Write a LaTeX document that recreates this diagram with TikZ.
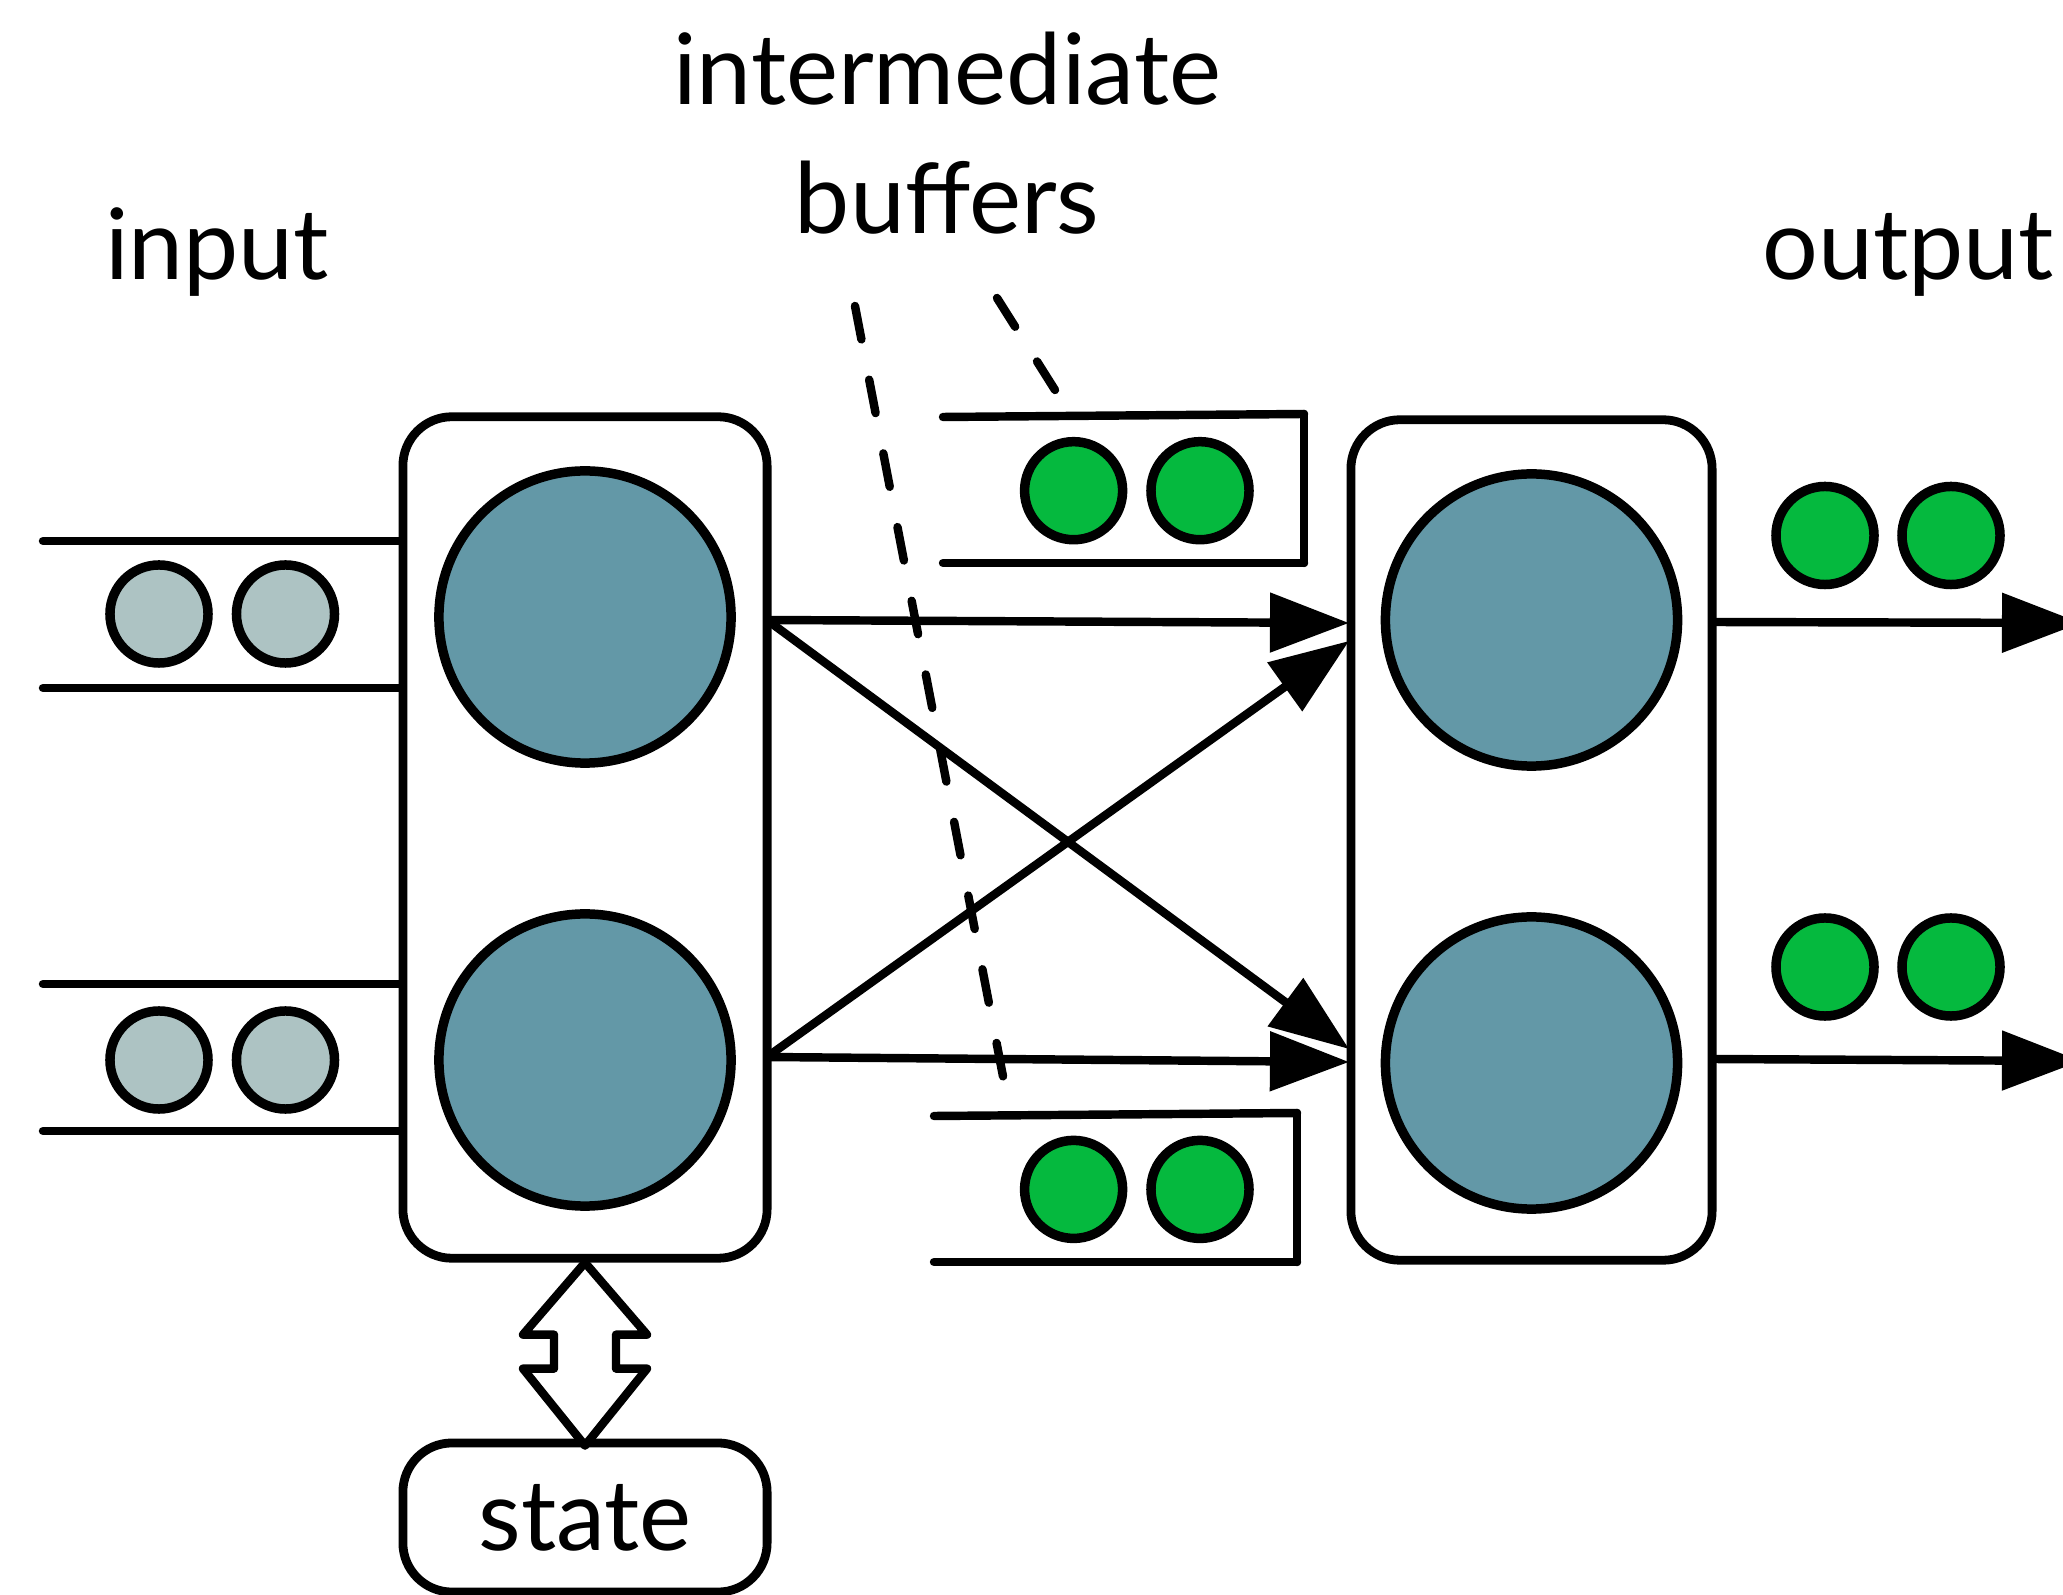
\documentclass[tikz,border=0pt]{standalone}
\usepackage{fontspec}
\setmainfont{Lato}
\usetikzlibrary{arrows.meta}
\definecolor{unitblue}{HTML}{6398A7}
\definecolor{tokgreen}{HTML}{05B93E}
\definecolor{tokgrey}{HTML}{ADC3C3}

\begin{document}
\begin{tikzpicture}[x=0.01cm,y=-0.01cm,
  box/.style={draw,line width=2.5pt,rounded corners=0.49cm,inner sep=0pt},
  unit/.style={circle,draw,line width=2.7pt,fill=unitblue,minimum size=2.92cm,inner sep=0pt},
  tok/.style={circle,draw,line width=2.7pt,minimum size=0.98cm,inner sep=0pt},
  intok/.style={tok,fill=tokgrey},
  buftok/.style={tok,fill=tokgreen},
  rail/.style={line width=2.4pt,line cap=round},
  flow/.style={line width=2.4pt,-{Triangle[length=0.79cm,width=0.58cm]}},
  guide/.style={line width=2.4pt,line cap=round,dash pattern=on 0.34cm off 0.41cm},
  lbl/.style={font=\fontsize{28}{30}\selectfont,anchor=base,inner sep=0pt}]

\useasboundingbox (0,0) rectangle (2063,1595);
\clip (0,0) rectangle (2063,1595);

% labels
\node[lbl] (tInter) at (947,105) {intermediate};
\node[lbl] (tBuf) at (947,234) {buffers};
\node[lbl] (tIn) at (217,280) {input};
\node[lbl] (tOut) at (1908,280) {output};

% operator boxes and their units
\node[box,minimum width=3.64cm,minimum height=8.41cm] (lbox) at (585,837.5) {};
\node[box,minimum width=3.61cm,minimum height=8.40cm] (rbox) at (1531.5,840) {};
\node[unit] (lc1) at (585,617) {};
\node[unit] (lc2) at (585,1060) {};
\node[unit] (rc1) at (1531.5,620) {};
\node[unit] (rc2) at (1531.5,1063) {};

% state box
\node[box,minimum width=3.64cm,minimum height=1.49cm,font=\fontsize{28}{30}\selectfont] (state) at (585,1517.5) {state};

% input channels
\coordinate (in1a) at (43,541);
\coordinate (in1b) at (43,688);
\coordinate (in2a) at (43,984);
\coordinate (in2b) at (43,1131);
\draw[rail] (in1a) -- (lbox.west |- in1a);
\draw[rail] (in1b) -- (lbox.west |- in1b);
\draw[rail] (in2a) -- (lbox.west |- in2a);
\draw[rail] (in2b) -- (lbox.west |- in2b);
\node[intok] (i11) at (159,614) {};
\node[intok] (i12) at (285.5,614) {};
\node[intok] (i21) at (159,1060) {};
\node[intok] (i22) at (285.5,1060) {};

% intermediate buffers
\coordinate (b1tl) at (943,417);
\coordinate (b1tr) at (1304,414);
\coordinate (b1bl) at (943,563);
\coordinate (b1br) at (1304,563);
\draw[rail] (b1tl) -- (b1tr);
\draw[rail] (b1bl) -- (b1br);
\draw[rail] (b1tr) -- (b1br);
\node[buftok] (g11) at (1073.6,490.7) {};
\node[buftok] (g12) at (1200,490.7) {};

\coordinate (b2tl) at (934,1116);
\coordinate (b2tr) at (1297,1113);
\coordinate (b2bl) at (934,1262);
\coordinate (b2br) at (1297,1262);
\draw[rail] (b2tl) -- (b2tr);
\draw[rail] (b2bl) -- (b2br);
\draw[rail] (b2tr) -- (b2br);
\node[buftok] (g21) at (1073.6,1189.4) {};
\node[buftok] (g22) at (1200,1189.4) {};

% output tokens
\node[buftok] (o11) at (1825,535.5) {};
\node[buftok] (o12) at (1951,535.5) {};
\node[buftok] (o21) at (1825,967) {};
\node[buftok] (o22) at (1951,967) {};

% shuffle connections
\coordinate (s1) at (767,620);
\coordinate (s2) at (767,1057);
\coordinate (t1a) at (1349,623);
\coordinate (t1b) at (1349,641);
\coordinate (t2a) at (1349,1049);
\coordinate (t2b) at (1349,1062);
\draw[flow] (s1) -- (t1a);
\draw[flow] (s1) -- (t2a);
\draw[flow] (s2) -- (t1b);
\draw[flow] (s2) -- (t2b);

% outputs
\coordinate (u1) at (1712,622);
\coordinate (u2) at (1712,1059);
\coordinate (v1) at (2081,623);
\coordinate (v2) at (2081,1061);
\draw[flow] (u1) -- (v1);
\draw[flow] (u2) -- (v2);

% two-way arrow to the state
\draw[line width=2.4pt,line join=round] (lbox.south) -- ++(62,72) -- ++(-31,0) -- ++(0,34)
  -- ++(31,0) -- ++(-62,77) -- ++(-62,-77) -- ++(31,0) -- ++(0,-34) -- ++(-31,0) -- cycle;

% pointers from the label to the buffers
\coordinate (p1s) at (855,306);
\coordinate (p1e) at (1006,1092);
\coordinate (p2s) at (997,298);
\coordinate (p2e) at (1055,390);
\draw[guide] (p1s) -- (p1e);
\draw[guide] (p2s) -- (p2e);
\end{tikzpicture}
\end{document}
